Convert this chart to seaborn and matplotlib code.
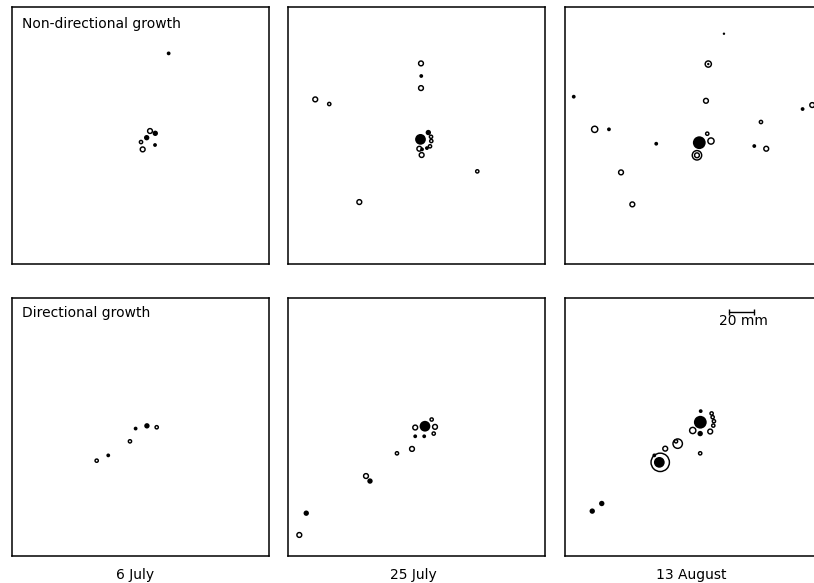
import numpy as np
import pandas as pd
import seaborn as sns
import matplotlib.pyplot as plt

# positions in mm from the lower-left corner of each 200 x 200 mm plot
# kinds: dot/fs/fm/fl/flx = filled (tiny..large), os/om/ol/ox = open (small..very large)
p1_x = [121.9, 107.4, 111.5, 104.8, 100.4, 101.7, 111.3]
p1_y = [163.9, 103.5, 101.7, 98.3, 94.9, 89.2, 92.6]
p1_kind = ["fs", "om", "fm", "fm", "os", "om", "fs"]

p2_x = [103.1, 109.2, 111.3, 111.5, 102.2, 104.3, 108.1, 110.5, 104.0,
        103.5, 103.7, 103.5, 21.2, 32.1, 147.3, 55.5]
p2_y = [97.0, 102.3, 99.0, 95.7, 89.7, 89.2, 90.2, 91.6, 84.8,
        156.1, 146.3, 136.9, 128.1, 124.5, 72.1, 48.2]
p2_kind = ["fl", "fm", "os", "os", "om", "fs", "fs", "os", "om",
           "om", "fs", "om", "om", "os", "os", "om"]

p3_x = [123.7, 111.5, 111.5, 6.8, 109.7, 152.5, 184.9, 192.4, 23.1, 34.2,
        71.0, 110.7, 104.5, 113.6, 102.7, 102.7, 147.3, 156.6, 43.6, 52.4]
p3_y = [179.2, 155.6, 155.6, 130.2, 127.0, 110.5, 120.6, 123.7, 104.8, 104.8,
        93.6, 101.4, 94.4, 95.7, 84.6, 84.6, 91.8, 89.7, 71.3, 46.4]
p3_kind = ["dot", "ol2", "dot", "fs", "om", "os", "fs", "om", "ol2", "fs",
           "fs", "os", "flx", "ol2", "ol", "om", "fs", "om", "om", "om"]

p4_x = [105.0, 112.6, 96.2, 91.8, 74.9, 65.9]
p4_y = [100.9, 99.8, 98.8, 88.9, 78.0, 73.9]
p4_kind = ["fm", "os", "fs", "os", "fs", "os"]

p5_x = [106.6, 99.0, 111.8, 114.4, 113.4, 99.0, 106.0, 96.5, 84.8,
        60.7, 63.8, 14.2, 8.8]
p5_y = [100.6, 99.6, 105.8, 100.1, 94.9, 92.8, 92.8, 83.0, 79.6,
        62.0, 58.1, 33.2, 16.3]
p5_kind = ["fl", "om", "os", "om", "os", "fs", "fs", "om", "os",
           "om", "fm", "fm", "om"]

p6_x = [105.3, 105.6, 114.1, 114.9, 115.9, 115.4, 113.0, 105.2, 99.4,
        87.7, 86.4, 78.0, 105.2, 74.1, 73.4, 69.5, 28.6, 21.2]
p6_y = [103.7, 112.3, 110.5, 107.6, 104.5, 101.1, 96.5, 94.9, 97.3,
        87.1, 88.9, 83.2, 79.6, 72.6, 72.6, 78.0, 40.7, 34.8]
p6_kind = ["flx", "fs", "os", "os", "os", "os", "om", "fm", "ol2",
           "ol", "os", "om", "os", "ox", "fl", "fs", "fm", "fm"]

dates = ["6 July", "25 July", "13 August"]
row_titles = ["Non-directional growth", "Directional growth"]

scale_x0 = 127.4
scale_len = 20
scale_y = 189.3

# marker areas (pt^2)
filled_sizes = {"dot": 3.0, "fs": 7.5, "fm": 15.0, "fl": 60.0, "flx": 85.0}
open_sizes = {"os": 5.5, "om": 12.0, "ol2": 20.0, "ol": 46.0, "ox": 175.0}

panels = [(p1_x, p1_y, p1_kind), (p2_x, p2_y, p2_kind), (p3_x, p3_y, p3_kind),
          (p4_x, p4_y, p4_kind), (p5_x, p5_y, p5_kind), (p6_x, p6_y, p6_kind)]

frames = []
for i, (xs, ys, ks) in enumerate(panels):
    frames.append(pd.DataFrame({"panel": i, "x": xs, "y": ys, "kind": ks}))
df = pd.concat(frames, ignore_index=True)
df["filled"] = df["kind"].isin(list(filled_sizes))

sns.set_style("white")
plt.rcParams["font.family"] = ["DejaVu Sans"]
plt.rcParams["text.color"] = "black"

W, H = 814, 583
fig = plt.figure(figsize=(W / 100, H / 100), dpi=100)

lefts = [12, 288, 565]
tops = [7, 298]
heights = [257, 258]

axes = []
for r in range(2):
    for c in range(3):
        rect = [lefts[c] / W, 1 - (tops[r] + heights[r]) / H, 257 / W, heights[r] / H]
        axes.append(fig.add_axes(rect))

for i, ax in enumerate(axes):
    sub = df[df["panel"] == i]
    op = sub[~sub["filled"]]
    fl = sub[sub["filled"]]
    if len(op):
        sns.scatterplot(data=op, x="x", y="y", size="kind", sizes=open_sizes,
                        color="white", edgecolor="black", linewidth=1.05,
                        legend=False, ax=ax, zorder=2)
    if len(fl):
        sns.scatterplot(data=fl, x="x", y="y", size="kind", sizes=filled_sizes,
                        color="black", edgecolor="black", linewidth=0,
                        legend=False, ax=ax, zorder=3)
    ax.set_xlim(0, 200)
    ax.set_ylim(0, 200)
    ax.set_xticks([])
    ax.set_yticks([])
    ax.set_xlabel("")
    ax.set_ylabel("")
    for s in ax.spines.values():
        s.set_color("black")
        s.set_linewidth(1.1)

axes[0].text(0.04, 0.935, row_titles[0], transform=axes[0].transAxes,
             ha="left", va="center", fontsize=10, color="black")
axes[3].text(0.04, 0.94, row_titles[1], transform=axes[3].transAxes,
             ha="left", va="center", fontsize=10, color="black")

date_x = [0.479, 0.486, 0.49]
for c in range(3):
    axes[3 + c].text(date_x[c], -0.074, dates[c], transform=axes[3 + c].transAxes,
                     ha="center", va="center", fontsize=10, color="black")

# scale bar
ax = axes[5]
ax.plot([scale_x0, scale_x0 + scale_len], [scale_y, scale_y], color="black",
        lw=1, marker="|", ms=4, mew=1)
ax.text(scale_x0 + scale_len / 2 + 1.5, scale_y - 7.5, "20 mm",
        ha="center", va="center", fontsize=10, color="black")

fig.savefig("out.png", dpi=100)
